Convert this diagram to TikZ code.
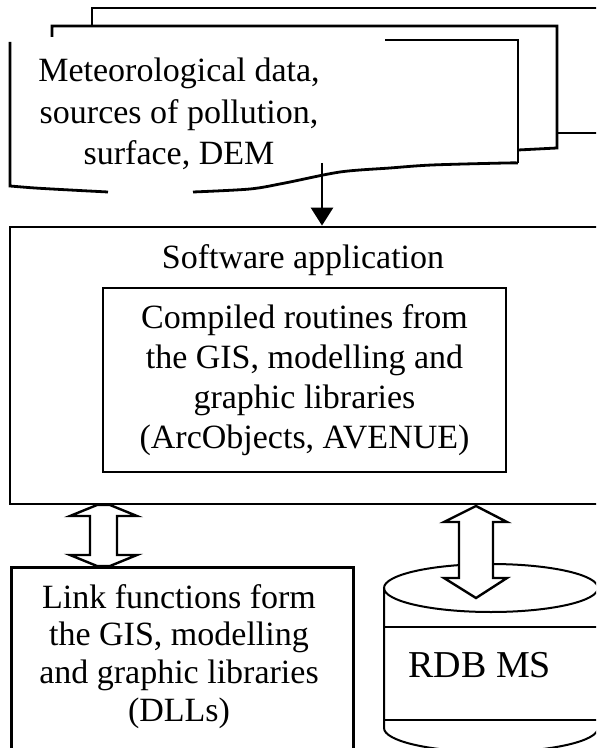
\documentclass[tikz,border=0pt]{standalone}
\usepackage{fontspec}
\setmainfont{Liberation Serif}
\usetikzlibrary{arrows.meta}

\tikzset{
  box/.style={draw, rectangle, line width=1.4pt, inner sep=0pt},
  txt/.style={align=center, inner sep=0pt, font=\fontsize{17}{20}\selectfont},
  edge/.style={line width=1.4pt},
  thinedge/.style={line width=1pt},
  dbl/.style={draw, fill=white, line width=1.2pt, line join=miter},
}

\begin{document}
\begin{tikzpicture}[x=0.5pt, y=-0.5pt]
    \clip (0,0) rectangle (596,748);

    % stack of documents
    \draw[edge] (92,25) -- (92,8) -- (620,8);
    \draw[edge] (557,133) -- (620,133);
    \draw[edge] (52,37) -- (52,26) -- (557,26) -- (557,148) -- (518,150);
    \draw[edge] (385,40) -- (518,40) -- (518,163);
    \draw[edge] (10,42) -- plot[smooth] coordinates {(10,186) (35,188) (70,190) (108,192)};
    \draw[edge] plot[smooth] coordinates {(193,192) (250,189) (285,183) (340,172) (390,168) (432,165) (505,163) (518,163)};
    % anchor=base sits on the last line
    \node[txt, font=\fontsize{17}{20.75}\selectfont, anchor=base] (meteo) at (179,165)
      {Meteorological data,\\ sources of pollution,\\ surface, DEM};
    \coordinate (docfoot) at (322,163);

    % application
    \node[box, minimum width=305pt, minimum height=138.5pt] (app) at (315,365.5) {};
    \node[txt, anchor=base] (appname) at (303,269) {Software application};
    \node[box, txt, line width=1.2pt, minimum width=201.5pt, minimum height=92pt] (lib) at (304.5,380)
      {Compiled routines from\\ the GIS, modelling and\\ graphic libraries\\ (ArcObjects, AVENUE)};

    \draw[edge, -{Triangle[length=9pt, width=11pt]}] (docfoot) -- (docfoot |- app.north);

    % link functions
    \node[box, minimum width=171pt, minimum height=110pt, anchor=north west] (link) at (10,566) {};
    \node[txt, font=\fontsize{17}{18.8}\selectfont, anchor=base] (linktxt) at (179,721)
      {Link functions form\\ the GIS, modelling\\ and graphic libraries\\ (DLLs)};

    % database
    \draw[thinedge] (491,588) ellipse[x radius=53.5pt, y radius=12pt];
    \draw[thinedge] (384,588) -- (384,728) arc[start angle=180, end angle=360, x radius=53.5pt, y radius=12pt] -- (598,588);
    \draw[thinedge] (384,627) -- (598,627);
    \draw[thinedge] (384,720) -- (598,720);
    \node[inner sep=0pt, anchor=base west, font=\fontsize{19}{22}\selectfont] (rdbms) at (408,677) {RDB MS};

    % two-way arrows
    \draw[dbl] (90,516) -- (70,516) -- (97,505) -- (110,505) -- (137,516) -- (117,516)
      -- (117,555) -- (137,555) -- (110,566) -- (97,566) -- (70,555) -- (90,555) -- cycle;
    \draw[dbl] (459,522) -- (444,522) -- (476,506) -- (507,522) -- (493,522)
      -- (493,578) -- (507,578) -- (476,598) -- (444,578) -- (459,578) -- cycle;

\end{tikzpicture}
\end{document}
